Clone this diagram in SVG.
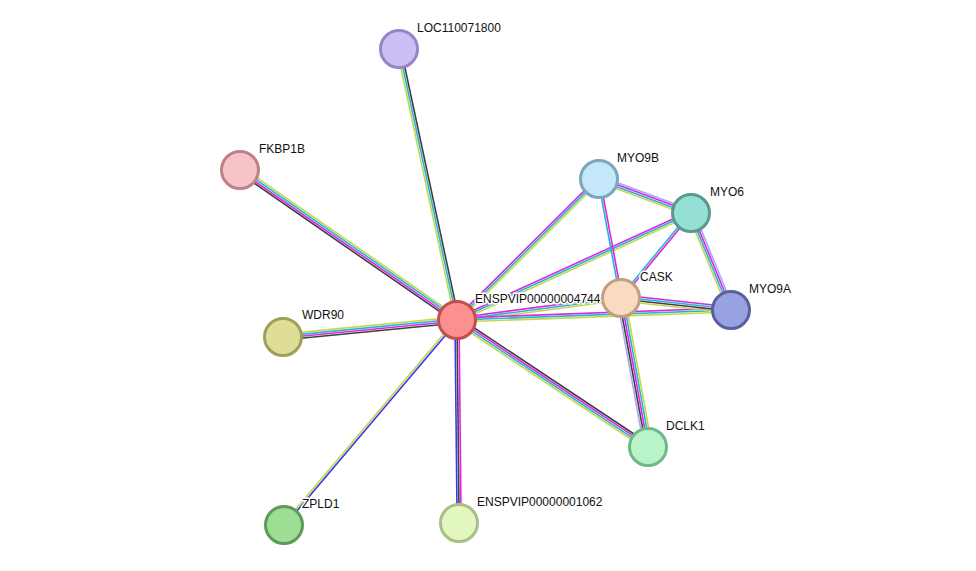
<svg xmlns="http://www.w3.org/2000/svg" width="976" height="571" viewBox="0 0 976 571">
<style>
line{stroke-width:1.6}
.g{stroke:#c2d84a}.c{stroke:#22b5d8}.m{stroke:#de26de}.k{stroke:#404040}.b{stroke:#3838f0}.l{stroke:#a8a8f8}
circle{stroke-width:3}
text{font-family:"Liberation Sans",Arial,sans-serif;font-size:12px;fill:#111;stroke:#fff;stroke-width:3px;paint-order:stroke;stroke-linejoin:round}
</style>
<rect width="976" height="571" fill="#fff"/>
<g id="edges">
<g transform="translate(457,320) rotate(-102.1)"><line class="g" x1="0" y1="-2" x2="277" y2="-2"/><line class="c" x1="0" y1="0" x2="277" y2="0"/><line class="k" x1="0" y1="2" x2="277" y2="2"/></g>
<g transform="translate(457,320) rotate(-145.3)"><line class="k" x1="0" y1="-3" x2="264" y2="-3"/><line class="m" x1="0" y1="-1" x2="264" y2="-1"/><line class="c" x1="0" y1="1" x2="264" y2="1"/><line class="g" x1="0" y1="3" x2="264" y2="3"/></g>
<g transform="translate(457,320) rotate(174.4)"><line class="g" x1="0" y1="3" x2="175" y2="3"/><line class="c" x1="0" y1="1" x2="175" y2="1"/><line class="m" x1="0" y1="-1" x2="175" y2="-1"/><line class="k" x1="0" y1="-3" x2="175" y2="-3"/></g>
<g transform="translate(457,320) rotate(130.2)"><line class="g" x1="0" y1="1" x2="268" y2="1"/><line class="b" x1="0" y1="-1" x2="268" y2="-1"/></g>
<g transform="translate(457,320) rotate(89.4)"><line class="b" x1="0" y1="2" x2="203" y2="2"/><line class="k" x1="0" y1="0" x2="203" y2="0"/><line class="m" x1="0" y1="-2" x2="203" y2="-2"/></g>
<g transform="translate(457,320) rotate(33.6)"><line class="k" x1="0" y1="-3" x2="229" y2="-3"/><line class="m" x1="0" y1="-1" x2="229" y2="-1"/><line class="c" x1="0" y1="1" x2="229" y2="1"/><line class="g" x1="0" y1="3" x2="229" y2="3"/></g>
<g transform="translate(457,320) rotate(-44.8)"><line class="m" x1="0" y1="-2" x2="200" y2="-2"/><line class="c" x1="0" y1="0" x2="200" y2="0"/><line class="g" x1="0" y1="2" x2="200" y2="2"/></g>
<g transform="translate(457,320) rotate(-24.6)"><line class="m" x1="0" y1="-2" x2="257" y2="-2"/><line class="c" x1="0" y1="0" x2="257" y2="0"/><line class="g" x1="0" y1="2" x2="257" y2="2"/></g>
<g transform="translate(457,320) rotate(-7.6)"><line class="m" x1="0" y1="-2" x2="165" y2="-2"/><line class="c" x1="0" y1="0" x2="165" y2="0"/><line class="g" x1="0" y1="2" x2="165" y2="2"/></g>
<g transform="translate(457,320) rotate(-2.1)"><line class="m" x1="0" y1="-2" x2="274" y2="-2"/><line class="c" x1="0" y1="0" x2="274" y2="0"/><line class="g" x1="0" y1="2" x2="274" y2="2"/></g>
<g transform="translate(599,179) rotate(20.3)"><line class="l" x1="0" y1="-3" x2="98" y2="-3"/><line class="m" x1="0" y1="-1" x2="98" y2="-1"/><line class="c" x1="0" y1="1" x2="98" y2="1"/><line class="g" x1="0" y1="3" x2="98" y2="3"/></g>
<g transform="translate(599,179) rotate(79.5)"><line class="c" x1="0" y1="1" x2="121" y2="1"/><line class="m" x1="0" y1="-1" x2="121" y2="-1"/></g>
<g transform="translate(691,213) rotate(129.5)"><line class="c" x1="0" y1="1" x2="110" y2="1"/><line class="m" x1="0" y1="-1" x2="110" y2="-1"/></g>
<g transform="translate(691,213) rotate(67.6)"><line class="g" x1="0" y1="3" x2="105" y2="3"/><line class="c" x1="0" y1="1" x2="105" y2="1"/><line class="m" x1="0" y1="-1" x2="105" y2="-1"/><line class="l" x1="0" y1="-3" x2="105" y2="-3"/></g>
<g transform="translate(621,298) rotate(6.2)"><line class="m" x1="0" y1="-3" x2="111" y2="-3"/><line class="c" x1="0" y1="-1" x2="111" y2="-1"/><line class="k" x1="0" y1="1" x2="111" y2="1"/><line class="g" x1="0" y1="3" x2="111" y2="3"/></g>
<g transform="translate(621,298) rotate(79.7)"><line class="l" x1="0" y1="4" x2="151" y2="4"/><line class="k" x1="0" y1="2" x2="151" y2="2"/><line class="m" x1="0" y1="0" x2="151" y2="0"/><line class="c" x1="0" y1="-2" x2="151" y2="-2"/><line class="g" x1="0" y1="-4" x2="151" y2="-4"/></g>
</g>
<g id="LOC110071800"><circle cx="399" cy="49" r="18.5" fill="#cdbff6" stroke="#9a84c8"/><text x="417" y="32">LOC110071800</text></g>
<g id="FKBP1B"><circle cx="240" cy="170" r="18.5" fill="#f6c4c8" stroke="#c08088"/><text x="259" y="153">FKBP1B</text></g>
<g id="MYO9B"><circle cx="599" cy="179" r="18.5" fill="#c4e8fa" stroke="#7ba6c0"/><text x="617" y="162">MYO9B</text></g>
<g id="MYO6"><circle cx="691" cy="213" r="18.5" fill="#94e0d4" stroke="#5a9890"/><text x="710" y="196">MYO6</text></g>
<g id="CASK"><circle cx="621" cy="298" r="18.5" fill="#fadac0" stroke="#c0a080"/><text x="640" y="281">CASK</text></g>
<g id="MYO9A"><circle cx="731" cy="310" r="18.5" fill="#98a2e0" stroke="#5860a0"/><text x="749" y="293">MYO9A</text></g>
<g id="ENSPVIP00000004744"><circle cx="457" cy="320" r="18.5" fill="#fc9090" stroke="#c05050"/><text x="475" y="303">ENSPVIP00000004744</text></g>
<g id="WDR90"><circle cx="283" cy="337" r="18.5" fill="#dede98" stroke="#a0a058"/><text x="302" y="319">WDR90</text></g>
<g id="DCLK1"><circle cx="648" cy="447" r="18.5" fill="#b8f4c8" stroke="#70b888"/><text x="666" y="430">DCLK1</text></g>
<g id="ZPLD1"><circle cx="284" cy="525" r="18.5" fill="#9ede94" stroke="#5c9c58"/><text x="302" y="508">ZPLD1</text></g>
<g id="ENSPVIP00000001062"><circle cx="459" cy="523" r="18.5" fill="#e2f8c0" stroke="#a8c088"/><text x="477" y="506">ENSPVIP00000001062</text></g>
</svg>
